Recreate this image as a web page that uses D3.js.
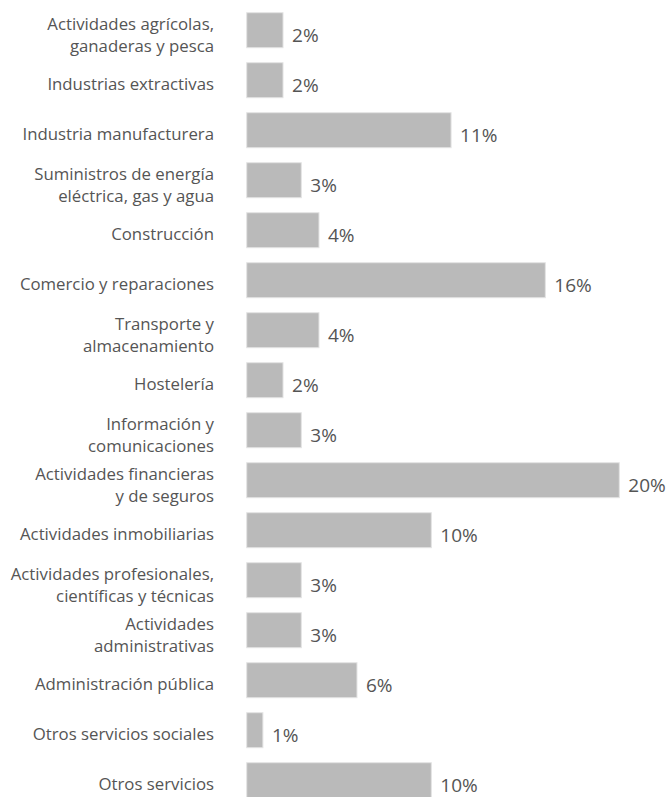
<!DOCTYPE html>
<html>
<head>
<meta charset="utf-8">
<script src="https://cdn.jsdelivr.net/npm/d3@7"></script>
<style>
  html, body { margin: 0; padding: 0; background: #fff; }
  svg { display: block; }
</style>
</head>
<body>
<svg id="chart" width="670" height="797"></svg>
<script>
const categories = [
  "Actividades agrícolas,\nganaderas y pesca",
  "Industrias extractivas",
  "Industria manufacturera",
  "Suministros de energía\neléctrica, gas y agua",
  "Construcción",
  "Comercio y reparaciones",
  "Transporte y\nalmacenamiento",
  "Hostelería",
  "Información y\ncomunicaciones",
  "Actividades financieras\ny de seguros",
  "Actividades inmobiliarias",
  "Actividades profesionales,\ncientíficas y técnicas",
  "Actividades\nadministrativas",
  "Administración pública",
  "Otros servicios sociales",
  "Otros servicios"
];
const values = [1.95, 1.95, 10.97, 2.93, 3.88, 16.03, 3.88, 1.95, 2.93, 20.0, 9.91, 2.93, 2.93, 5.92, 0.87, 9.91];
const valueLabels = ["2%", "2%", "11%", "3%", "4%", "16%", "4%", "2%", "3%", "20%", "10%", "3%", "3%", "6%", "1%", "10%"];

const svg = d3.select("#chart");
const FONT = "'Open Sans', 'Noto Sans', sans-serif";

const y = d3.scaleBand()
  .domain(d3.range(categories.length))
  .range([12.7, 797.7])
  .paddingInner(0.3)
  .paddingOuter(0);

const x = d3.scaleLinear().domain([0, 20]).range([246.7, 619.3]);

const rows = svg.selectAll("g.row")
  .data(categories.map((c, i) => ({ c, v: values[i], l: valueLabels[i], i })))
  .join("g").attr("class", "row");

rows.append("rect")
  .attr("x", x(0))
  .attr("y", d => y(d.i))
  .attr("width", d => x(d.v) - x(0))
  .attr("height", y.bandwidth())
  .attr("fill", "#bababa")
  .attr("stroke", "#e4e4e4")
  .attr("stroke-width", 1);

rows.append("text")
  .attr("x", d => x(d.v) + 9)
  .attr("y", d => y(d.i) + y.bandwidth() / 2 + 11.5)
  .attr("font-family", FONT)
  .attr("font-size", 19)
  .attr("fill", "#555")
  .text(d => d.l);

rows.each(function(d) {
  const lines = d.c.split("\n");
  const cy = y(d.i) + y.bandwidth() / 2;
  const t = d3.select(this).append("text")
    .attr("text-anchor", "end")
    .attr("font-family", FONT)
    .attr("font-size", 16.8)
    .attr("fill", "#555");
  const base = lines.length === 1 ? cy + 9.8 : cy + 0;
  lines.forEach((ln, k) => {
    t.append("tspan").attr("x", 214).attr("y", base + k * 22).text(ln);
  });
});
</script>
</body>
</html>
